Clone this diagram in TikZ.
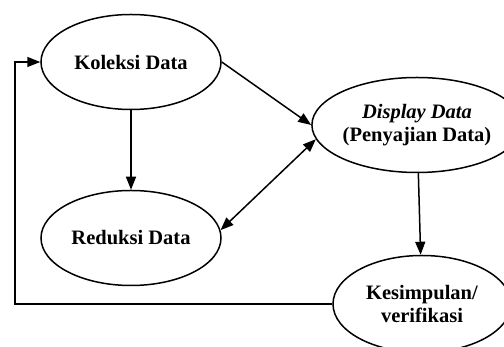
\documentclass[tikz,border=0pt]{standalone}
\usepackage{fontspec}
\setmainfont{Liberation Serif}[BoldItalicFont={Liberation Serif Bold Italic}]
\usepackage{tikz}
\usetikzlibrary{shapes.geometric}
\usetikzlibrary{arrows.meta}

\begin{document}
\begin{tikzpicture}[x=1pt,y=1pt,
        bulle/.style={draw,ellipse,line width=1.5pt,inner sep=0pt,
            minimum width=180pt,minimum height=95pt,align=center,
            font=\fontsize{20.5}{23}\selectfont\bfseries},
        fleche/.style={line width=1.5pt,-{Triangle[length=13pt,width=10pt]}}]
    \useasboundingbox (0,0) rectangle (504,347);
    \node[bulle] (kol) at (131,285) {Koleksi Data};
    \node[bulle,minimum width=176pt] (dis) at (417,222) {{\bfseries\itshape Display Data}\\(Penyajian Data)};
    \node[bulle] (red) at (131,109) {Reduksi Data};
    \node[bulle,minimum width=178pt,minimum height=97pt] (kes) at (422,43) {Kesimpulan/\\verifikasi};
    \coordinate (fb) at (15,285);
    \draw[fleche] (kol) -- (red);
    \draw[fleche] (kol.east) -- (dis.west);
    \draw[fleche,{Triangle[length=13pt,width=10pt]}-{Triangle[length=13pt,width=10pt]}] (red.5) -- (dis.-172);
    \draw[fleche] (dis) -- (kes);
    \draw[fleche] (kes.west) -| (fb) -- (kol.west);
\end{tikzpicture}
\end{document}
